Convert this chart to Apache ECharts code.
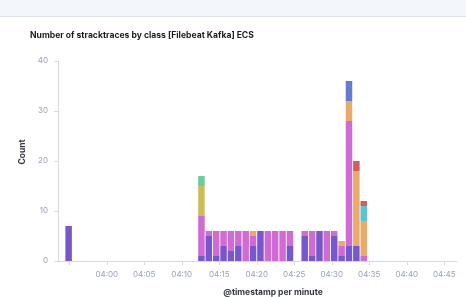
<!DOCTYPE html>
<html>
<head>
<meta charset="utf-8">
<script src="https://cdn.jsdelivr.net/npm/echarts@6/dist/echarts.min.js"></script>
<style>
  html, body { margin: 0; padding: 0; background: #fff; }
  #chart { width: 466px; height: 297px; }
</style>
</head>
<body>
<div id="chart"></div>
<script>
// minute buckets that have documents
const minutes = ['03:54', '04:12', '04:13', '04:14', '04:15', '04:16', '04:17', '04:18', '04:19', '04:20',
  '04:21', '04:22', '04:23', '04:24', '04:26', '04:27', '04:28', '04:29', '04:30', '04:31',
  '04:32', '04:33', '04:34']

// counts per class, one value per bucket above
const purple = [7, 1, 5, 1, 3, 2, 3, 0, 3, 6, 0, 0, 0, 3, 5, 1, 6, 0, 5, 1, 3, 3, 0]
const pink   = [0, 8, 1, 5, 3, 4, 3, 6, 2, 0, 6, 6, 6, 3, 1, 5, 0, 6, 1, 2, 25, 0, 1]
const orange = [0, 0, 0, 0, 0, 0, 0, 0, 1, 0, 0, 0, 0, 0, 0, 0, 0, 0, 0, 1, 4, 15, 7]
const yellow = [0, 6, 0, 0, 0, 0, 0, 0, 0, 0, 0, 0, 0, 0, 0, 0, 0, 0, 0, 0, 0, 0, 0]
const green  = [0, 2, 0, 0, 0, 0, 0, 0, 0, 0, 0, 0, 0, 0, 0, 0, 0, 0, 0, 0, 0, 0, 0]
const cyan   = [0, 0, 0, 0, 0, 0, 0, 0, 0, 0, 0, 0, 0, 0, 0, 0, 0, 0, 0, 0, 0, 0, 3]
const red    = [0, 0, 0, 0, 0, 0, 0, 0, 0, 0, 0, 0, 0, 0, 0, 0, 0, 0, 0, 0, 0, 2, 1]
const blue   = [0, 0, 0, 0, 0, 0, 0, 0, 0, 0, 0, 0, 0, 0, 0, 0, 0, 0, 0, 0, 4, 0, 0]

// x axis range and first labelled tick
const xStart = '03:53:30'
const xEnd = '04:46:42'
const firstLabel = '04:00'

const MIN = 60000
// ms since midnight UTC (same number on the time axis and the label axis)
function toMs(hm) {
  const p = hm.split(':').map(Number)
  return Date.UTC(1970, 0, 1, p[0], p[1], p[2] || 0)
}
function fmt(v) {
  const m = Math.round(v / MIN), h = Math.floor(m / 60)
  return String(h).padStart(2, '0') + ':' + String(m - h * 60).padStart(2, '0')
}

const chart = echarts.init(document.getElementById('chart'))

const classes = [
  {name: 'purple', data: purple, color: '#7757cc'},
  {name: 'pink', data: pink, color: '#d16bd4'},
  {name: 'orange', data: orange, color: '#e8ab6c'},
  {name: 'yellow', data: yellow, color: '#cbbd5a'},
  {name: 'green', data: green, color: '#6ccb9a'},
  {name: 'cyan', data: cyan, color: '#5cc4d4'},
  {name: 'red', data: red, color: '#cf5f5c'},
  {name: 'blue', data: blue, color: '#5f7ecf'}
]

const option = {
  useUTC: true,
  animation: false,
  backgroundColor: '#ffffff',
  title: {
    text: 'Number of stracktraces by class [Filebeat Kafka] ECS',
    left: 25,
    top: 26,
    textStyle: {fontFamily: 'Inter', fontWeight: 'bold', fontSize: 8.6, color: '#1a1c21'}
  },
  graphic: [
    {type: 'rect', left: 0, top: 0, shape: {width: 466, height: 16}, style: {fill: '#f3f6fa'}},
    {type: 'rect', left: 0, top: 16, shape: {width: 466, height: 1}, style: {fill: '#dde3ec'}}
  ],
  grid: {left: 58, right: 9, top: 61, bottom: 36, containLabel: false, outerBoundsMode: 'none'},
  xAxis: [
    {
      // time axis that carries the bars
      type: 'time',
      show: false,
      min: toMs(xStart),
      max: toMs(xEnd)
    },
    {
      // same range, only for the 5-minute ticks and labels
      type: 'value',
      position: 'bottom',
      min: toMs(xStart),
      max: toMs(xEnd),
      splitNumber: 10,
      name: '@timestamp per minute',
      nameLocation: 'middle',
      nameGap: 27,
      nameTextStyle: {fontFamily: 'Inter', fontWeight: 'bold', fontSize: 8.5, color: '#343741', padding: [0, 0, 0, 31]},
      axisLine: {lineStyle: {color: '#d3dae6'}},
      axisTick: {show: true, length: 4, lineStyle: {color: '#d3dae6'}},
      axisLabel: {
        showMinLabel: false,
        showMaxLabel: false,
        formatter: v => (v < toMs(firstLabel) || v % (5 * MIN) !== 0) ? '' : fmt(v),
        fontFamily: 'Inter', fontSize: 8, color: '#98a2b3', margin: 10
      },
      splitLine: {show: false}
    }
  ],
  yAxis: {
    type: 'value',
    min: 0,
    max: 40,
    interval: 10,
    name: 'Count',
    nameLocation: 'middle',
    nameGap: 20,
    nameTextStyle: {fontFamily: 'Inter', fontWeight: 'bold', fontSize: 8.5, color: '#343741', padding: [0, 0, 0, 18]},
    axisLine: {show: true, lineStyle: {color: '#d3dae6'}},
    axisTick: {show: true, length: 4, lineStyle: {color: '#d3dae6'}},
    axisLabel: {fontFamily: 'Inter', fontSize: 8, color: '#98a2b3', margin: 10},
    splitLine: {show: false}
  },
  series: classes.map(c => ({
    name: c.name,
    type: 'bar',
    xAxisIndex: 0,
    stack: 'total',
    barWidth: 6.5,
    itemStyle: {color: c.color},
    emphasis: {disabled: true},
    // bar centred inside its one-minute bucket
    data: minutes.map((m, i) => [toMs(m) + MIN / 2, c.data[i]])
  }))
}
chart.setOption(option)
</script>
</body>
</html>
